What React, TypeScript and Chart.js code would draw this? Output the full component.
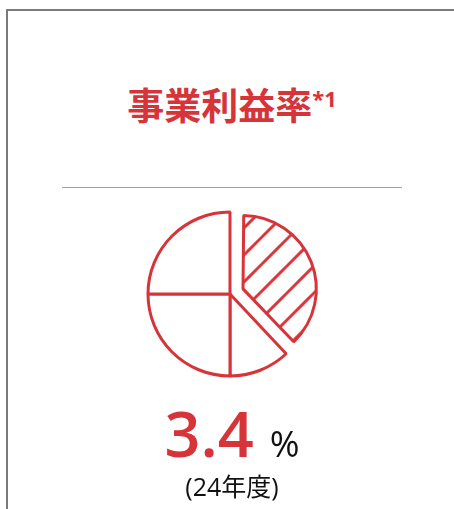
import React, { useEffect, useRef } from "react";
import { Chart, registerables } from "chart.js";

Chart.register(...registerables);

// ---- data ----
const sliceLabels = ["事業利益", "その他A", "その他B", "その他C"];
const sliceValues = [38, 12, 25, 25];
const hatchedIndex = 0;
const titleText = "事業利益率";
const titleNote = "*1";
const valueText = "3.4";
const unitText = "%";
const periodText = "(24年度)";

// ---- style ----
const RED = "#d7343a";
const LATIN = "'Open Sans', 'Noto Sans CJK JP', sans-serif";
const CJK = "'Noto Sans CJK JP', 'Open Sans', sans-serif";

function makeHatch(size: number, phase: number, color: string, lw: number) {
  const c = document.createElement("canvas");
  c.width = size;
  c.height = size;
  const g = c.getContext("2d")!;
  g.fillStyle = "#ffffff";
  g.fillRect(0, 0, size, size);
  g.strokeStyle = color;
  g.lineWidth = lw;
  g.lineCap = "square";
  for (let k = -2; k <= 3; k++) {
    const d = phase + k * size;
    g.beginPath();
    g.moveTo(d + 4, -4);
    g.lineTo(-4, d + 4);
    g.stroke();
  }
  return g.createPattern(c, "repeat")!;
}

const shrinkHatched = {
  id: "shrinkHatched",
  afterDatasetUpdate(chart: any) {
    const el = chart.getDatasetMeta(0).data[hatchedIndex];
    if (el) el.outerRadius = el.outerRadius * 0.84;
  },
};

function PieIcon() {
  const ref = useRef<HTMLCanvasElement | null>(null);
  useEffect(() => {
    if (!ref.current) return;
    const pattern = makeHatch(27, 18, RED, 3);
    const chart = new Chart(ref.current, {
      type: "pie",
      data: {
        labels: sliceLabels,
        datasets: [
          {
            data: sliceValues,
            backgroundColor: sliceValues.map((_, i) => (i === hatchedIndex ? pattern : "#ffffff")) as any,
            borderColor: RED,
            borderWidth: 3,
            offset: sliceValues.map((_, i) => (i === hatchedIndex ? 56 : 0)),
            hoverOffset: 0,
          },
        ],
      },
      options: {
        responsive: false,
        animation: false,
        radius: 82,
        events: [],
        layout: { padding: 0 },
        plugins: { legend: { display: false }, tooltip: { enabled: false } },
      } as any,
      plugins: [shrinkHatched],
    });
    return () => chart.destroy();
  }, []);
  return (
    <canvas
      ref={ref}
      width={240}
      height={240}
      style={{ position: "absolute", left: 110, top: 174, width: 240, height: 240 }}
    />
  );
}

export default function App() {
  return (
    <div>
      <div
        style={{
          position: "absolute",
          left: 6,
          top: 9,
          width: 470,
          height: 530,
          boxSizing: "border-box",
          borderLeft: "2px solid #7a7a7a",
          borderTop: "2px solid #7a7a7a",
        }}
      />
      <div
        style={{
          position: "absolute",
          left: 0,
          top: 85,
          width: 464,
          textAlign: "center",
          fontFamily: CJK,
          fontWeight: 700,
          fontSize: 37,
          lineHeight: "38px",
          color: RED,
          whiteSpace: "nowrap",
        }}
      >
        {titleText}
        <span style={{ fontSize: 22, verticalAlign: "top", lineHeight: "26px", fontFamily: LATIN }}>{titleNote}</span>
      </div>
      <div
        style={{
          position: "absolute",
          left: 62,
          top: 187,
          width: 340,
          height: 0,
          borderTop: "1.5px solid #a0a0a0",
        }}
      />
      <PieIcon />
      <div
        style={{
          position: "absolute",
          left: 0,
          top: 401,
          width: 464,
          textAlign: "center",
          fontFamily: LATIN,
          lineHeight: "63px",
          whiteSpace: "nowrap",
        }}
      >
        <span style={{ fontSize: 63, color: RED, fontWeight: 600 }}>{valueText}</span>
        <span style={{ fontSize: 36, color: "#111", marginLeft: 16 }}>{unitText}</span>
      </div>
      <div
        style={{
          position: "absolute",
          left: 0,
          top: 474,
          width: 464,
          textAlign: "center",
          fontFamily: LATIN,
          fontSize: 25,
          lineHeight: "25px",
          color: "#111",
          whiteSpace: "nowrap",
        }}
      >
        {periodText}
      </div>
    </div>
  );
}
